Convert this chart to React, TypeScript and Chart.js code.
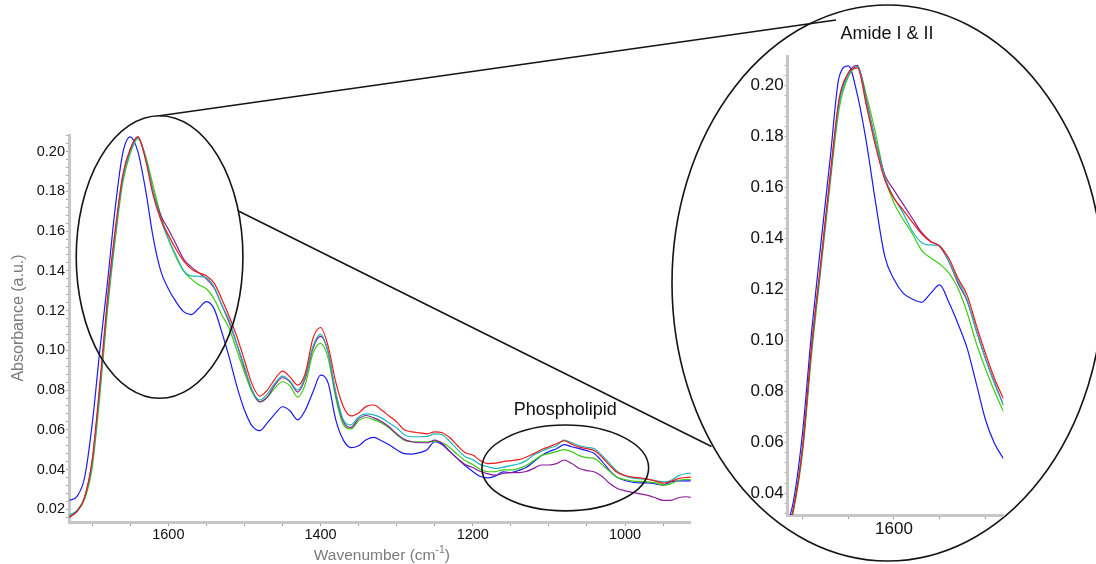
import React, { useEffect, useRef } from "react";
import { Chart, registerables } from "chart.js";

Chart.register(...registerables);

// ---------- main spectrum data (wavenumber, cm-1) ----------
const wavenumbers = [
  1730, 1720, 1710, 1700, 1690, 1680, 1670, 1660, 1650, 1640,
  1630, 1620, 1610, 1600, 1590, 1580, 1570, 1560, 1550, 1540,
  1530, 1520, 1510, 1500, 1490, 1480, 1470, 1460, 1450, 1440,
  1430, 1420, 1410, 1400, 1390, 1380, 1370, 1360, 1350, 1340,
  1330, 1320, 1310, 1300, 1290, 1280, 1270, 1260, 1250, 1240,
  1230, 1220, 1210, 1200, 1190, 1180, 1170, 1160, 1150, 1140,
  1130, 1120, 1110, 1100, 1090, 1080, 1070, 1060, 1050, 1040,
  1030, 1020, 1010, 1000, 990, 980, 970, 960, 950, 940,
  930, 920, 910,
];

const absRed = [
  0.016, 0.019, 0.026, 0.045, 0.083, 0.126, 0.160, 0.188, 0.2015, 0.2075,
  0.196, 0.178, 0.166, 0.158, 0.151, 0.145, 0.141, 0.139, 0.1375, 0.134,
  0.126, 0.117, 0.107, 0.095, 0.083, 0.077, 0.080, 0.0855, 0.0895, 0.0865,
  0.0825, 0.0885, 0.106, 0.1115, 0.102, 0.084, 0.0716, 0.067, 0.0685, 0.0718,
  0.0725, 0.070, 0.067, 0.064, 0.060, 0.059, 0.0585, 0.058, 0.059, 0.0585,
  0.056, 0.052, 0.0485, 0.0473, 0.0445, 0.043, 0.0432, 0.044, 0.0445, 0.045,
  0.0462, 0.048, 0.050, 0.0515, 0.053, 0.0545, 0.0528, 0.0513, 0.0505, 0.0495,
  0.0462, 0.042, 0.0385, 0.037, 0.0362, 0.0358, 0.0352, 0.0342, 0.0332, 0.034,
  0.0354, 0.036, 0.0362,
];

const absBlue = [
  0.0245, 0.0265, 0.036, 0.063, 0.100, 0.134, 0.171, 0.199, 0.2075, 0.200,
  0.181, 0.157, 0.140, 0.131, 0.1245, 0.1195, 0.118, 0.1212, 0.1245, 0.121,
  0.1095, 0.0965, 0.082, 0.070, 0.062, 0.0596, 0.0635, 0.068, 0.0716, 0.0695,
  0.065, 0.070, 0.079, 0.0875, 0.0835, 0.065, 0.0548, 0.051, 0.052, 0.055,
  0.0562, 0.0545, 0.0525, 0.050, 0.048, 0.0478, 0.0485, 0.050, 0.054, 0.0525,
  0.049, 0.0455, 0.042, 0.039, 0.0365, 0.0358, 0.0368, 0.0388, 0.0385, 0.0395,
  0.041, 0.0439, 0.047, 0.049, 0.0505, 0.0525, 0.0515, 0.0505, 0.0495, 0.048,
  0.044, 0.0395, 0.036, 0.0345, 0.0336, 0.0333, 0.0333, 0.0328, 0.0322, 0.0338,
  0.0343, 0.0343, 0.0343,
];

const absCyan = [
  0.017, 0.0195, 0.026, 0.043, 0.080, 0.123, 0.157, 0.186, 0.200, 0.207,
  0.197, 0.180, 0.166, 0.156, 0.148, 0.1403, 0.1375, 0.1373, 0.1365, 0.132,
  0.123, 0.115, 0.1034, 0.092, 0.080, 0.075, 0.078, 0.0835, 0.087, 0.0845,
  0.080, 0.087, 0.102, 0.108, 0.099, 0.079, 0.065, 0.0625, 0.0665, 0.068,
  0.0675, 0.066, 0.0635, 0.061, 0.0575, 0.0565, 0.0565, 0.0567, 0.058, 0.0575,
  0.054, 0.050, 0.0465, 0.045, 0.0425, 0.0414, 0.0405, 0.0412, 0.042, 0.0428,
  0.0445, 0.0473, 0.0492, 0.0508, 0.052, 0.0548, 0.0535, 0.052, 0.0512, 0.0505,
  0.047, 0.043, 0.039, 0.0368, 0.0357, 0.0353, 0.035, 0.0345, 0.0338, 0.0345,
  0.0368, 0.038, 0.0382,
];

const absGreen = [
  0.017, 0.019, 0.025, 0.041, 0.077, 0.120, 0.155, 0.184, 0.199, 0.2065,
  0.198, 0.183, 0.168, 0.156, 0.147, 0.140, 0.136, 0.133, 0.131, 0.126,
  0.118, 0.111, 0.100, 0.089, 0.079, 0.0742, 0.0765, 0.081, 0.0842, 0.082,
  0.0765, 0.083, 0.0985, 0.1035, 0.096, 0.076, 0.0625, 0.0605, 0.0645, 0.0662,
  0.065, 0.0635, 0.061, 0.0575, 0.0548, 0.054, 0.054, 0.054, 0.0542, 0.0535,
  0.051, 0.0475, 0.0445, 0.0425, 0.040, 0.0389, 0.039, 0.0398, 0.0398, 0.0405,
  0.042, 0.0445, 0.047, 0.048, 0.049, 0.050, 0.049, 0.047, 0.046, 0.0455,
  0.0425, 0.039, 0.036, 0.035, 0.0342, 0.034, 0.0338, 0.0333, 0.0322, 0.0328,
  0.0345, 0.035, 0.035,
];

const absPurple = [
  0.016, 0.019, 0.026, 0.044, 0.081, 0.124, 0.158, 0.187, 0.201, 0.2075,
  0.197, 0.180, 0.168, 0.161, 0.1535, 0.146, 0.142, 0.139, 0.136, 0.1315,
  0.123, 0.114, 0.103, 0.091, 0.080, 0.074, 0.0765, 0.0825, 0.0862, 0.084,
  0.079, 0.086, 0.101, 0.107, 0.099, 0.078, 0.064, 0.0612, 0.0655, 0.0672,
  0.066, 0.0642, 0.0615, 0.058, 0.0552, 0.054, 0.0535, 0.0535, 0.0548, 0.053,
  0.049, 0.0455, 0.0425, 0.041, 0.039, 0.0378, 0.0372, 0.038, 0.0385, 0.0385,
  0.039, 0.0406, 0.0423, 0.0423, 0.043, 0.0448, 0.043, 0.0405, 0.0395, 0.0388,
  0.0365, 0.033, 0.0305, 0.0293, 0.0285, 0.0278, 0.027, 0.0258, 0.0245, 0.0245,
  0.0258, 0.0263, 0.0258,
];

// ---------- inset (Amide I & II) data ----------
const insetWavenumbers = [
  1720, 1710, 1700, 1690, 1680, 1670, 1660, 1650, 1640, 1630,
  1620, 1610, 1600, 1590, 1580, 1570, 1560, 1550, 1540, 1530,
  1520, 1510, 1500, 1490, 1480,
];
const insetRed = [
  0.022, 0.034, 0.058, 0.098, 0.131, 0.1643, 0.195, 0.2049, 0.207, 0.1918,
  0.176, 0.163, 0.1558, 0.1512, 0.1465, 0.142, 0.1388, 0.137, 0.1323, 0.1244,
  0.1178, 0.1061, 0.095, 0.0851, 0.077,
];
const insetBlue = [
  0.024, 0.037, 0.064, 0.104, 0.138, 0.1708, 0.2035, 0.2078, 0.1963, 0.1774,
  0.1538, 0.1329, 0.124, 0.1186, 0.1163, 0.115, 0.1185, 0.1218, 0.115, 0.1066,
  0.097, 0.0832, 0.069, 0.0596, 0.0535,
];
const insetCyan = [
  0.021, 0.034, 0.058, 0.097, 0.130, 0.163, 0.193, 0.204, 0.2075, 0.193,
  0.178, 0.164, 0.156, 0.150, 0.143, 0.1385, 0.1375, 0.1372, 0.131, 0.1235,
  0.116, 0.104, 0.093, 0.083, 0.0745,
];
const insetGreen = [
  0.021, 0.033, 0.056, 0.095, 0.128, 0.161, 0.191, 0.2035, 0.2072, 0.196,
  0.181, 0.164, 0.154, 0.1475, 0.142, 0.1355, 0.1325, 0.130, 0.1265, 0.1205,
  0.111, 0.099, 0.089, 0.080, 0.072,
];
const insetPurple = [
  0.021, 0.034, 0.058, 0.098, 0.130, 0.163, 0.194, 0.205, 0.208, 0.194,
  0.178, 0.165, 0.159, 0.1535, 0.148, 0.1425, 0.139, 0.137, 0.131, 0.1225,
  0.1155, 0.104, 0.093, 0.0835, 0.0745,
];

// ---------- axes / ticks ----------
const mainXTicks = [1700, 1650, 1600, 1550, 1500, 1450, 1400, 1350, 1300, 1250, 1200, 1150, 1100, 1050, 1000, 950];
const mainXLabels = [1600, 1400, 1200, 1000];
const mainYLabels = [0.02, 0.04, 0.06, 0.08, 0.10, 0.12, 0.14, 0.16, 0.18, 0.20];
const insetXTicks = [1700, 1650, 1600, 1550, 1500];
const insetXLabels = [1600];
const insetYLabels = [0.04, 0.06, 0.08, 0.10, 0.12, 0.14, 0.16, 0.18, 0.20];
const yMinorStep = 0.004;

const SERIES = [
  { name: "Red", color: "#f01818", main: absRed, inset: insetRed },
  { name: "Cyan", color: "#1cb8b8", main: absCyan, inset: insetCyan },
  { name: "Purple", color: "#8a1c98", main: absPurple, inset: insetPurple },
  { name: "Green", color: "#3ccc10", main: absGreen, inset: insetGreen },
  { name: "Blue", color: "#1a1af0", main: absBlue, inset: insetBlue },
];

const FONT = "'Liberation Sans', Arial, Helvetica, sans-serif";

function yTickValues(min: number, max: number) {
  const out: { value: number }[] = [];
  const start = Math.ceil(min / yMinorStep - 1e-9);
  const end = Math.floor(max / yMinorStep + 1e-9);
  for (let k = start; k <= end; k++) out.push({ value: +(k * yMinorStep).toFixed(4) });
  return out;
}

function isLabel(list: number[], v: number) {
  return list.some((l) => Math.abs(l - v) < 1e-6);
}

function buildScales(cfg: {
  xMin: number; xMax: number; yMin: number; yMax: number;
  xTicks: number[]; xLabels: number[]; yLabels: number[];
  yWidth: number; xHeight: number; fontSize: number;
}) {
  return {
    x: {
      type: "linear" as const,
      reverse: true,
      min: cfg.xMin,
      max: cfg.xMax,
      afterBuildTicks: (s: any) => { s.ticks = cfg.xTicks.map((v) => ({ value: v })); },
      afterFit: (s: any) => { s.height = cfg.xHeight; },
      ticks: {
        autoSkip: false, maxRotation: 0, minRotation: 0, padding: 0, color: "#111",
        font: { family: FONT, size: cfg.fontSize },
        callback: (v: any) => (isLabel(cfg.xLabels, Number(v)) ? String(v) : ""),
      },
      grid: { drawOnChartArea: false, drawTicks: true, tickLength: 4, color: "#a0a0a0", lineWidth: 1 },
      border: { display: true, color: "#c6c6c6", width: 3 },
    },
    y: {
      type: "linear" as const,
      min: cfg.yMin,
      max: cfg.yMax,
      afterBuildTicks: (s: any) => { s.ticks = yTickValues(cfg.yMin, cfg.yMax); },
      afterFit: (s: any) => { s.width = cfg.yWidth; },
      ticks: {
        autoSkip: false, padding: 1, color: "#111",
        font: { family: FONT, size: cfg.fontSize },
        callback: (v: any) => (isLabel(cfg.yLabels, Number(v)) ? Number(v).toFixed(2) : ""),
      },
      grid: { drawOnChartArea: false, drawTicks: true, tickLength: 3, color: "#a8a8a8", lineWidth: 1 },
      border: { display: true, color: "#c6c6c6", width: 3 },
    },
  };
}

function datasets(kind: "main" | "inset") {
  const xs = kind === "main" ? wavenumbers : insetWavenumbers;
  return SERIES.map((s) => ({
    label: s.name,
    data: xs.map((x, i) => ({ x, y: (kind === "main" ? s.main : s.inset)[i] })),
    borderColor: s.color,
    backgroundColor: s.color,
    borderWidth: 1.2,
    pointRadius: 0,
    fill: false,
    cubicInterpolationMode: "monotone" as const,
  }));
}

// annotation geometry (ellipses in data units of the main chart)
const amideEllipse = { w: 1611.5, a: 0.147, dw: 109.5, da: 0.0711 };
const phosphoEllipse = { w: 1078.5, a: 0.0408, dw: 109.5, da: 0.0216 };
const zoomEllipse = { cx: 887.7, cy: 283, rx: 215.7, ry: 278 };

const mainAnnotations = {
  id: "mainAnnotations",
  afterDraw(chart: any) {
    const { ctx } = chart;
    const x = chart.scales.x;
    const y = chart.scales.y;
    const toPx = (e: any) => {
      const cx = x.getPixelForValue(e.w);
      const cy = y.getPixelForValue(e.a);
      const rx = Math.abs(x.getPixelForValue(e.w + e.dw) - cx);
      const ry = Math.abs(y.getPixelForValue(e.a + e.da) - cy);
      return { cx, cy, rx, ry };
    };
    const am = toPx(amideEllipse);
    const ph = toPx(phosphoEllipse);
    ctx.save();
    ctx.strokeStyle = "#141414";
    ctx.lineWidth = 1.6;
    for (const e of [am, ph, zoomEllipse]) {
      ctx.beginPath();
      ctx.ellipse(e.cx, e.cy, e.rx, e.ry, 0, 0, Math.PI * 2);
      ctx.stroke();
    }
    // connector lines
    const topA = { x: am.cx, y: am.cy - am.ry };
    const th = (-19 * Math.PI) / 180;
    const sideA = { x: am.cx + am.rx * Math.cos(th), y: am.cy + am.ry * Math.sin(th) };
    ctx.lineWidth = 1.5;
    ctx.beginPath();
    ctx.moveTo(topA.x, topA.y);
    ctx.lineTo(836, 20);
    ctx.moveTo(sideA.x, sideA.y);
    ctx.lineTo(711.5, 446.5);
    ctx.stroke();

    // labels
    ctx.fillStyle = "#111";
    ctx.textAlign = "center";
    ctx.textBaseline = "middle";
    ctx.font = `18px ${FONT}`;
    ctx.fillText("Phospholipid", ph.cx, ph.cy - ph.ry - 15);
    ctx.fillText("Amide I & II", 887, 34);

    // axis titles
    ctx.fillStyle = "#7a7a7a";
    ctx.font = `16px ${FONT}`;
    ctx.save();
    ctx.translate(19, 318);
    ctx.rotate(-Math.PI / 2);
    ctx.fillText("Absorbance (a.u.)", 0, 0);
    ctx.restore();

    const base = "Wavenumber (cm";
    const sup = "-1";
    const close = ")";
    ctx.font = `15.5px ${FONT}`;
    const wBase = ctx.measureText(base).width;
    const wClose = ctx.measureText(close).width;
    ctx.font = `10.5px ${FONT}`;
    const wSup = ctx.measureText(sup).width;
    const total = wBase + wSup + wClose;
    const cxTitle = (chart.chartArea.left + chart.chartArea.right) / 2 + 2;
    let sx = cxTitle - total / 2;
    const ty = 555.5;
    ctx.textAlign = "left";
    ctx.font = `15.5px ${FONT}`;
    ctx.fillText(base, sx, ty);
    sx += wBase;
    ctx.font = `10.5px ${FONT}`;
    ctx.fillText(sup, sx, ty - 5);
    sx += wSup;
    ctx.font = `15.5px ${FONT}`;
    ctx.fillText(close, sx, ty);
    ctx.restore();
  },
};

export default function App() {
  const mainRef = useRef<HTMLCanvasElement>(null);
  const insetRef = useRef<HTMLCanvasElement>(null);

  useEffect(() => {
    const main = new Chart(mainRef.current as HTMLCanvasElement, {
      type: "line",
      data: { datasets: datasets("main") as any },
      options: {
        animation: false,
        responsive: false,
        devicePixelRatio: 1,
        events: [],
        layout: { padding: { left: 0, top: 135, right: 405.3, bottom: 0 } },
        plugins: { legend: { display: false }, tooltip: { enabled: false } },
        scales: buildScales({
          xMin: 913.7, xMax: 1730.5, yMin: 0.0136, yMax: 0.2084,
          xTicks: mainXTicks, xLabels: mainXLabels, yLabels: mainYLabels,
          yWidth: 69, xHeight: 42, fontSize: 14.5,
        }) as any,
      },
      plugins: [mainAnnotations],
    });

    const inset = new Chart(insetRef.current as HTMLCanvasElement, {
      type: "line",
      data: { datasets: datasets("inset") as any },
      options: {
        animation: false,
        responsive: false,
        devicePixelRatio: 1,
        events: [],
        layout: { padding: { left: 0, top: 16.7, right: 11.7, bottom: 0 } },
        plugins: { legend: { display: false }, tooltip: { enabled: false } },
        scales: buildScales({
          xMin: 1480.4, xMax: 1716.3, yMin: 0.0315, yMax: 0.2114,
          xTicks: insetXTicks, xLabels: insetXLabels, yLabels: insetYLabels,
          yWidth: 47.7, xHeight: 49, fontSize: 17,
        }) as any,
      },
    });

    return () => {
      main.destroy();
      inset.destroy();
    };
  }, []);

  return (
    <div style={{ position: "absolute", left: 0, top: 0, width: 1096, height: 564, background: "#fff", overflow: "hidden" }}>
      <canvas
        ref={mainRef}
        width={1096}
        height={564}
        style={{ position: "absolute", left: 0, top: 0, width: 1096, height: 564, display: "block" }}
      />
      <canvas
        ref={insetRef}
        width={275}
        height={524}
        style={{ position: "absolute", left: 740, top: 40, width: 275, height: 524, display: "block" }}
      />
    </div>
  );
}
